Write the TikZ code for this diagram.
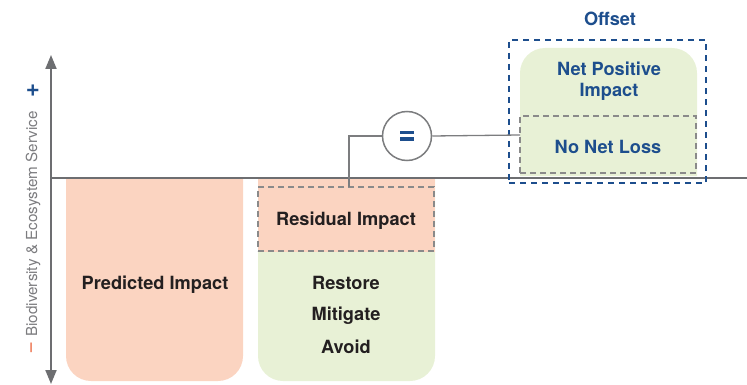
\documentclass[tikz,border=0pt]{standalone}
\usepackage{fontspec}
\setmainfont{TeX Gyre Heros}
\usetikzlibrary{arrows.meta}
\definecolor{peach}{HTML}{FBD4C1}
\definecolor{leaf}{HTML}{E8F1D6}
\definecolor{navy}{HTML}{1D4E8D}
\definecolor{axisgray}{HTML}{6D6E71}
\definecolor{dashgray}{HTML}{8A8A8A}
\definecolor{ink}{HTML}{231F20}
\definecolor{minuscol}{HTML}{F08A6C}
\tikzset{
  lbl/.style={font=\fontsize{18.2}{21}\selectfont\bfseries, text=ink, inner sep=0pt},
  bluelbl/.style={lbl, text=navy},
  dashbox/.style={draw=dashgray, line width=1.5pt, dash pattern=on 6pt off 4pt},
  bluedash/.style={draw=navy, line width=1.5pt, dash pattern=on 6pt off 5pt},
  conn/.style={draw=axisgray!90, line width=1.3pt},
}
\begin{document}
\begin{tikzpicture}[x=1pt,y=-1pt]
\useasboundingbox (0,0) rectangle (747,385);
% shapes
\fill[peach,rounded corners=25pt] (66,178) -- (66,381) -- (243,381) -- (243,178);
\fill[leaf,rounded corners=25pt] (258,178) -- (258,381) -- (435,381) -- (435,178);
\fill[peach] (258,178) rectangle (435,252);
\fill[leaf,rounded corners=25pt] (520,176) -- (520,48) -- (697,48) -- (697,176);
% axes
\draw[axisgray, line width=2pt] (51,178) -- (747,178);
\draw[axisgray, line width=2pt, {Triangle[length=14pt,width=11pt]}-{Triangle[length=14pt,width=11pt]}] (51,55) -- (51,384);
% axis labels
\node[rotate=90, text=axisgray!90, font=\fontsize{15.2}{18}\selectfont, inner sep=0pt] (ylab) at (33,224) {Biodiversity \& Ecosystem Service};
\node[text=navy, font=\fontsize{24}{24}\selectfont\bfseries, inner sep=0pt] (plus) at (33,91) {+};
\node[rotate=90, text=minuscol, font=\fontsize{17}{17}\selectfont\bfseries, inner sep=0pt] (minus) at (33,348) {–};
% dashed boxes
\node[dashbox, minimum width=176pt, minimum height=64pt, inner sep=0pt] (resid) at (346,219) {};
\node[lbl] (residt) at (346,220.5) {Residual Impact};
\node[dashbox, minimum width=176pt, minimum height=57pt, inner sep=0pt] (nnl) at (608,144.5) {};
\node[bluelbl] (nnlt) at (608,147) {No Net Loss};
\node[bluedash, minimum width=197pt, minimum height=143pt, inner sep=0pt] (offset) at (607.5,111.5) {};
\node[bluelbl, anchor=south] (offt) at (610,26) {Offset};
% texts
\node[lbl] (pred) at (155,284.5) {Predicted Impact};
\node[lbl] (restore) at (346,283) {Restore};
\node[lbl] (mitigate) at (346,315.5) {Mitigate};
\node[lbl] (avoid) at (346,347) {Avoid};
\node[bluelbl, align=center] (npi) at (609,81) {Net Positive\\Impact};
% equals circle
\node[circle, draw=axisgray!90, line width=1.5pt, fill=white, minimum size=49pt, inner sep=0pt] (eq) at (407,136) {};
\fill[navy] (400,131) rectangle (414,134.5);
\fill[navy] (400,137.5) rectangle (414,141);
% connectors
\coordinate (nnlin) at (520,135);
\draw[conn] (eq.west) -| (349,187);
\draw[conn] (eq.east) -- (nnlin);
\end{tikzpicture}
\end{document}
